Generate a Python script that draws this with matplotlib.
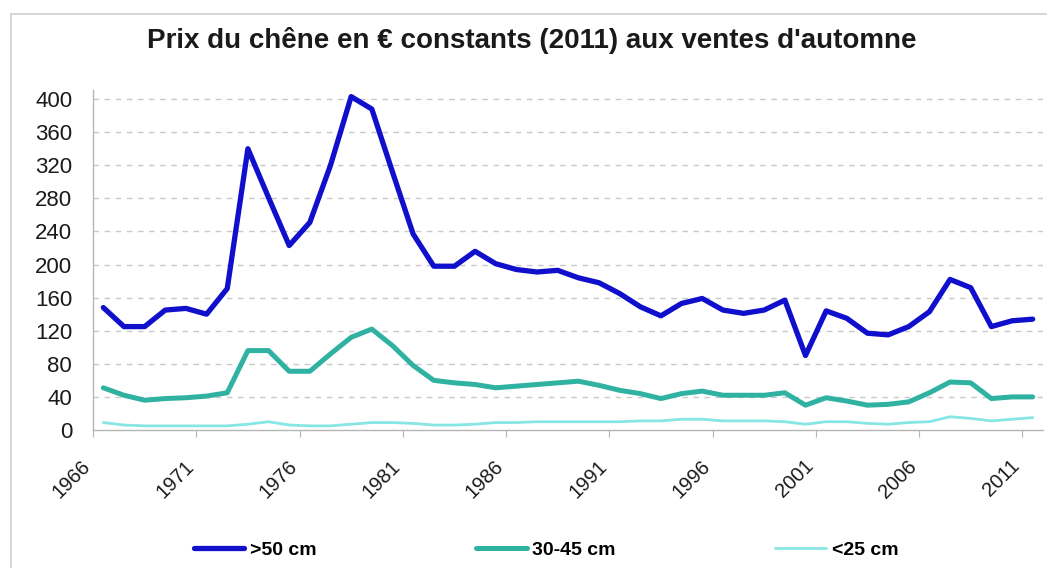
import matplotlib
matplotlib.use("Agg")
import matplotlib.pyplot as plt
import matplotlib.transforms as mtransforms
from matplotlib.lines import Line2D

years = list(range(1966, 2012))

# Prix en € constants (2011), par classe de diamètre
gros = [148, 125, 125, 145, 147, 140, 171, 340, 281, 223,
        251, 320, 403, 388, 312, 237, 198, 198, 216, 201,
        194, 191, 193, 184, 178, 165, 149, 138, 153, 159,
        145, 141, 145, 157, 90, 144, 135, 117, 115, 125,
        143, 182, 172, 125, 132, 134]
moyens = [51, 42, 36, 38, 39, 41, 45, 96, 96, 71,
          71, 92, 112, 122, 102, 78, 60, 57, 55, 51,
          53, 55, 57, 59, 54, 48, 44, 38, 44, 47,
          42, 42, 42, 45, 30, 39, 35, 30, 31, 34,
          45, 58, 57, 38, 40, 40]
petits = [9, 6, 5, 5, 5, 5, 5, 7, 10, 6,
          5, 5, 7, 9, 9, 8, 6, 6, 7, 9,
          9, 10, 10, 10, 10, 10, 11, 11, 13, 13,
          11, 11, 11, 10, 7, 10, 10, 8, 7, 9,
          10, 16, 14, 11, 13, 15]

series_labels = [">50 cm", "30-45 cm", "<25 cm"]
series_colors = ["#0F0FCC", "#30B2A2", "#86E6E6"]
series_widths = [3.8, 3.6, 2.0]
y_ticks = list(range(0, 401, 40))
title = "Prix du chêne en € constants (2011) aux ventes d'automne"

plt.rcParams['font.family'] = ['Liberation Sans', 'DejaVu Sans']

W, H = 1047, 568
fig = plt.figure(figsize=(W / 100, H / 100), dpi=100)
fig.patch.set_facecolor("white")

# outer frame of the chart area
fig.add_artist(Line2D([11 / W, 11 / W], [0, 1 - 14 / H], color="#cfcfcf", lw=1.2))
fig.add_artist(Line2D([11 / W, 1], [1 - 14 / H, 1 - 14 / H], color="#cfcfcf", lw=1.2))

left, right = 93 / W, 1043 / W
bottom, top = 1 - 430 / H, 1 - 90 / H
ax = fig.add_axes([left, bottom, right - left, top - bottom])

x = list(range(len(years)))
series = [gros, moyens, petits]
for vals, lab, col, lw in zip(series, series_labels, series_colors, series_widths):
    ax.plot(x, vals, color=col, lw=lw, label=lab, solid_joinstyle="round",
            solid_capstyle="round", clip_on=False, zorder=3)

ax.set_xlim(-0.5, len(years) - 0.5)
ax.set_ylim(0, 411)

# y axis
ax.set_yticks(y_ticks)
ax.set_yticklabels([str(v) for v in y_ticks], fontsize=16, color="#1a1a1a")
ax.tick_params(axis="y", length=0, pad=15)
for v in y_ticks[1:]:
    ax.axhline(v, color="#c9c9c9", lw=1.0, ls=(0, (4, 4)), zorder=1)

# x axis: tick marks between categories, labels every five years
ax.set_xticks([i - 0.5 for i in range(0, len(years) + 1, 5)])
ax.set_xticklabels([])
ax.tick_params(axis="x", which="major", length=5, color="#b5b5b5", direction="out")
label_pos = list(range(0, len(years), 5))
ax.set_xticks(label_pos, minor=True)
ax.set_xticklabels([str(years[i]) for i in label_pos], minor=True,
                   rotation=45, ha="right", va="top", fontsize=14.5, color="#1a1a1a")
ax.tick_params(axis="x", which="minor", length=0, pad=19)
shift = mtransforms.ScaledTranslation(-9 / 100, 0, fig.dpi_scale_trans)
for lbl in ax.get_xticklabels(minor=True):
    lbl.set_transform(lbl.get_transform() + shift)

for s in ["top", "right"]:
    ax.spines[s].set_visible(False)
for s in ["left", "bottom"]:
    ax.spines[s].set_color("#b5b5b5")
    ax.spines[s].set_linewidth(1.0)

fig.text(532 / W, 1 - 40 / H, title, ha="center", va="center",
         fontsize=20, fontweight="bold", color="#1a1a1a")

leg = fig.legend(loc="center", bbox_to_anchor=(546 / W, 1 - 550 / H), ncol=3,
                 frameon=False, prop={"size": 14, "weight": "bold"},
                 handlelength=2.6, handletextpad=0.3, columnspacing=8.2)

fig.savefig("out.png", dpi=100, facecolor="white")
